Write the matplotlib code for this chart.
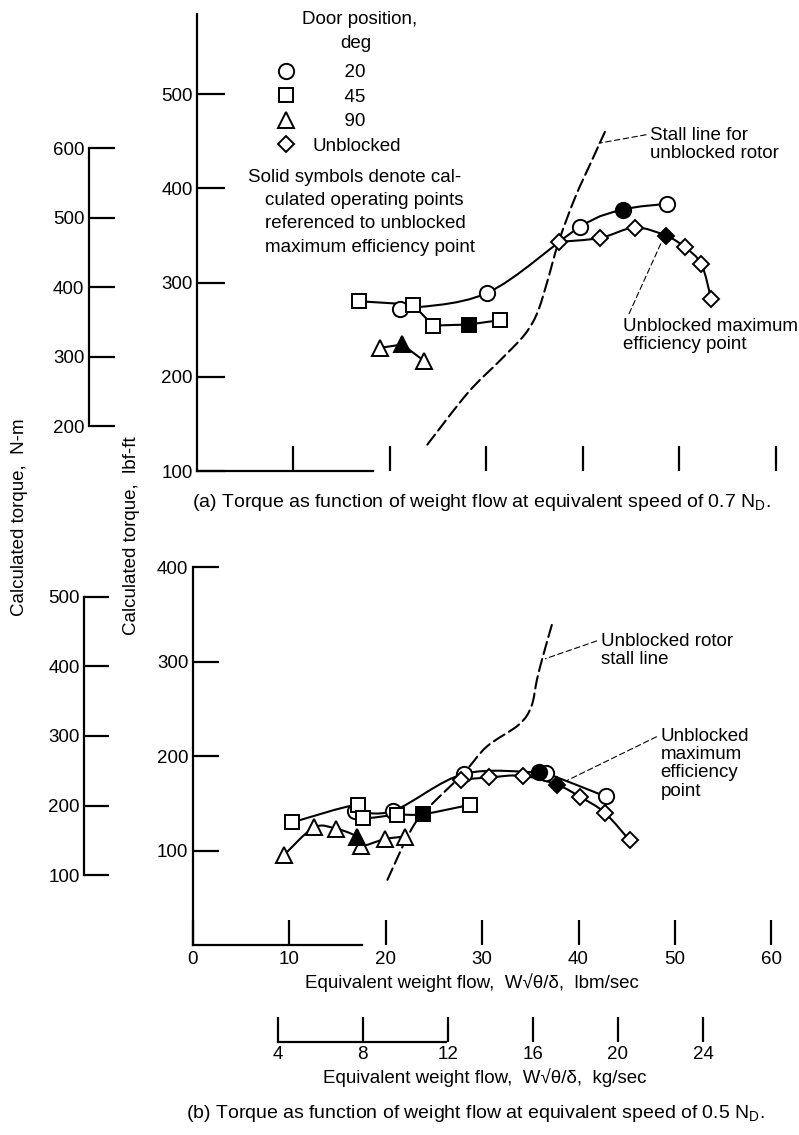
import numpy as np
import matplotlib
matplotlib.use("Agg")
import matplotlib.pyplot as plt
from matplotlib.path import Path
from matplotlib.patches import PathPatch
from matplotlib.lines import Line2D

plt.rcParams['font.family'] = ['Liberation Sans', 'DejaVu Sans']
plt.rcParams['mathtext.fontset'] = 'custom'
plt.rcParams['mathtext.rm'] = 'Liberation Sans'
plt.rcParams['font.size'] = 13.5

# ---- (a) 0.7 N_D : weight flow (lbm/sec) vs torque (lbf-ft)
a_circ_x = [21.1, 30.1, 39.7, 48.7]
a_circ_y = [272, 289, 359, 383.6]
a_circ_sx = [44.2]
a_circ_sy = [377.5]

a_sq_x = [16.8, 22.4, 24.5, 31.4]
a_sq_y = [280.2, 276.7, 254.4, 260.1]
a_sq_sx = [28.2]
a_sq_sy = [255.5]

a_tri_x = [19.0, 23.6]
a_tri_y = [230.7, 216.6]
a_tri_sx = [21.3]
a_tri_sy = [234.3]

a_dia_x = [37.5, 41.8, 45.4, 50.6, 52.3, 53.3]
a_dia_y = [343.2, 347.4, 358.4, 337.5, 319.5, 283.1]
a_dia_sx = [48.6]
a_dia_sy = [349.9]

a_stall_x = [23.9, 28.1, 31.5, 34.0, 35.3, 36.3, 37.5, 39.2, 41.1, 42.3]
a_stall_y = [128, 183, 218, 245, 268, 300, 343, 390, 433, 460]

# ---- (b) 0.5 N_D
b_circ_x = [16.8, 20.8, 28.1, 36.6, 42.8]
b_circ_y = [142, 142, 181, 182, 157.2]
b_circ_sx = [35.9]
b_circ_sy = [182.6]

b_sq_x = [10.3, 17.1, 17.7, 21.2, 28.8]
b_sq_y = [129.7, 148.4, 134.9, 137.8, 148.4]
b_sq_sx = [23.9]
b_sq_sy = [138.5]

b_tri_x = [9.5, 12.6, 14.9, 17.5, 19.9, 22.0]
b_tri_y = [95.4, 124.4, 123, 104.9, 112, 114.8]
b_tri_sx = [17.0]
b_tri_sy = [114.8]

b_dia_x = [27.8, 30.7, 34.2, 40.2, 42.7, 45.3]
b_dia_y = [175, 177.3, 179.1, 156.5, 140.2, 110.6]
b_dia_sx = [37.8]
b_dia_sy = [169.5]

b_stall_x = [20.2, 22.3, 23.9, 28.1, 30.5, 33.8, 35.1, 35.7, 36.3, 37.3]
b_stall_y = [69, 115, 139.5, 182, 210, 233, 252, 281, 305, 341]

door_labels = ['20', '45', '90', 'Unblocked']
note_lines = ['Solid symbols denote cal-', 'culated operating points',
              'referenced to unblocked', 'maximum efficiency point']
lbf_ticks_a = [100, 200, 300, 400, 500]
lbf_ticks_b = [100, 200, 300, 400]
nm_ticks_a = [200, 300, 400, 500, 600]
nm_ticks_b = [100, 200, 300, 400, 500]
flow_ticks = [10, 20, 30, 40, 50, 60]
kg_ticks = [4, 8, 12, 16, 20, 24]

NM = 1.35582
KG = 0.453592
FS = 13.5

W, H = 799, 1135
fig = plt.figure(figsize=(W / 100, H / 100), dpi=100)


def px(x, y):
    return x / W, 1 - y / H


def faired(ax, x, y, smooth=True, **kw):
    pts = np.column_stack([x, y]).astype(float)
    pts = pts[np.argsort(pts[:, 0], kind='stable')]
    if not smooth:
        ax.plot(pts[:, 0], pts[:, 1], color='k', lw=1.5, zorder=2, **kw)
        return
    verts = [pts[0]]
    codes = [Path.MOVETO]
    n = len(pts)
    for i in range(n - 1):
        p0 = pts[i - 1] if i > 0 else pts[i]
        p1, p2 = pts[i], pts[i + 1]
        p3 = pts[i + 2] if i + 2 < n else pts[i + 1]
        verts += [p1 + (p2 - p0) / 6, p2 - (p3 - p1) / 6, p2]
        codes += [Path.CURVE4] * 3
    ax.add_patch(PathPatch(Path(verts, codes), fill=False, ec='k', lw=1.5,
                           zorder=2, capstyle='round', **kw))


mk = dict(ls='none', mec='k', mew=1.4, zorder=3)
ms = {'o': 11, 's': 10.5, '^': 11.5, 'D': 8}


def series(ax, x, y, sx, sy, m, smooth=True):
    faired(ax, list(x) + list(sx), list(y) + list(sy), smooth=smooth)
    ax.plot(x, y, marker=m, ms=ms[m], mfc='white', **mk)
    ax.plot(sx, sy, marker=m, ms=ms[m], mfc='k', **mk)


def style_axes(ax, ytop, ylo, ticks_y, tick_len):
    for s in ['top', 'right']:
        ax.spines[s].set_visible(False)
    for s in ['left', 'bottom']:
        ax.spines[s].set_linewidth(1.6)
    ax.set_xlim(0, 62)
    ax.set_ylim(ylo, ytop)
    ax.spines['left'].set_bounds(ylo, ytop)
    ax.set_yticks(ticks_y)
    ax.set_xticks(flow_ticks)
    ax.tick_params(direction='in', length=tick_len, width=1.6, labelsize=FS, pad=3)
    ax.set_facecolor('none')


# ---------------- panel (a)
ax_a = fig.add_axes([196.7 / W, 1 - 471 / H, 598.3 / W, 485 * 0.942 / H])
style_axes(ax_a, 585, 100, lbf_ticks_a, 20)
ax_a.spines['bottom'].set_bounds(0, 18.3)
ax_a.tick_params(axis='x', labelbottom=False, length=18)

series(ax_a, a_circ_x, a_circ_y, a_circ_sx, a_circ_sy, 'o')
series(ax_a, a_sq_x, a_sq_y, a_sq_sx, a_sq_sy, 's', smooth=False)
series(ax_a, a_tri_x, a_tri_y, a_tri_sx, a_tri_sy, '^', smooth=False)
series(ax_a, a_dia_x, a_dia_y, a_dia_sx, a_dia_sy, 'D')
faired(ax_a, a_stall_x, a_stall_y, ls=(0, (6, 2.5)))

sec_a = ax_a.secondary_yaxis((88.5 - 196.7) / 598.3,
                             functions=(lambda v: v * NM, lambda v: v / NM))
sec_a.set_yticks(nm_ticks_a)
sec_a.spines['left'].set_bounds(200, 600)
sec_a.spines['left'].set_linewidth(1.6)
sec_a.tick_params(direction='in', length=19, width=1.6, labelsize=FS, pad=3)

lead = dict(arrowstyle='-', ls=(0, (5, 3)), lw=0.8, color='k', shrinkA=1, shrinkB=2)
ax_a.annotate('Stall line for\nunblocked rotor', xy=(41.4, 447.5), xytext=(47, 446.5),
              va='center', ha='left', fontsize=FS, linespacing=1.1,
              arrowprops=dict(relpos=(0, 0.8), **lead))
ax_a.annotate('Unblocked maximum\nefficiency point', xy=(48.3, 346), xytext=(44.2, 244),
              va='center', ha='left', fontsize=FS, linespacing=1.1,
              arrowprops=dict(relpos=(0, 0.75), **lead))

handles = [Line2D([], [], marker=m, ms=ms[m], mfc='white', mec='k', mew=1.4, ls='none')
           for m in ['o', 's', '^', 'D']]
labels = [' ' * 6 + t if len(t) < 3 else t for t in door_labels]
ax_a.legend(handles, labels, loc='upper left',
            bbox_to_anchor=px(277, 64), bbox_transform=fig.transFigure,
            frameon=False, borderpad=0, borderaxespad=0, handlelength=1.0,
            handletextpad=0.9, labelspacing=0.4, fontsize=FS)
fig.text(*px(360, 19), 'Door position,', fontsize=FS, ha='center', va='center')
fig.text(*px(356, 43), 'deg', fontsize=FS, ha='center', va='center')

for i, line in enumerate(note_lines):
    fig.text(*px(248 if i == 0 else 265, 177 + 23.5 * i), line, fontsize=FS, va='center')

fig.text(*px(481, 503), '(a) Torque as function of weight flow at equivalent speed of '
         '0.7 N$_\\mathrm{D}$.', fontsize=14, ha='center', va='center')

# ---------------- panel (b)
ax_b = fig.add_axes([192.5 / W, 1 - 945 / H, 598.3 / W, 378 / H])
style_axes(ax_b, 400, 0, lbf_ticks_b, 19)
ax_b.spines['bottom'].set_bounds(0, 17.6)
ax_b.set_xticks([0] + flow_ticks)
ax_b.tick_params(axis='x', length=18, pad=4)

series(ax_b, b_circ_x, b_circ_y, b_circ_sx, b_circ_sy, 'o')
series(ax_b, b_sq_x, b_sq_y, b_sq_sx, b_sq_sy, 's')
series(ax_b, b_tri_x, b_tri_y, b_tri_sx, b_tri_sy, '^')
series(ax_b, b_dia_x, b_dia_y, b_dia_sx, b_dia_sy, 'D')
faired(ax_b, b_stall_x, b_stall_y, ls=(0, (6, 2.5)))

sec_b = ax_b.secondary_yaxis((84 - 192.5) / 598.3,
                             functions=(lambda v: v * NM, lambda v: v / NM))
sec_b.set_yticks(nm_ticks_b)
sec_b.spines['left'].set_bounds(100, 500)
sec_b.spines['left'].set_linewidth(1.6)
sec_b.tick_params(direction='in', length=18, width=1.6, labelsize=FS, pad=3)

sec_kg = ax_b.secondary_xaxis(-97 / 378, functions=(lambda v: v * KG, lambda v: v / KG))
sec_kg.set_xticks(kg_ticks)
sec_kg.spines['bottom'].set_bounds(4, 11.9)
sec_kg.spines['bottom'].set_linewidth(1.6)
sec_kg.tick_params(direction='in', length=18, width=1.6, labelsize=FS, pad=3)

ax_b.annotate('Unblocked rotor\nstall line', xy=(36.3, 302), xytext=(42.3, 312),
              va='center', ha='left', fontsize=FS, linespacing=1.1,
              arrowprops=dict(relpos=(0, 0.8), **lead))
ax_b.annotate('Unblocked\nmaximum\nefficiency\npoint', xy=(38.6, 173), xytext=(48.5, 192),
              va='center', ha='left', fontsize=FS, linespacing=1.1,
              arrowprops=dict(relpos=(0, 0.9), **lead))

fig.text(*px(472, 983), 'Equivalent weight flow,  W\u221a\u03b8/\u03b4,  lbm/sec',
         fontsize=FS, ha='center', va='center')
fig.text(*px(485, 1078), 'Equivalent weight flow,  W\u221a\u03b8/\u03b4,  kg/sec',
         fontsize=FS, ha='center', va='center')
fig.text(*px(475, 1113), '(b) Torque as function of weight flow at equivalent speed of '
         '0.5 N$_\\mathrm{D}$.', fontsize=14, ha='center', va='center')

fig.text(*px(20, 517), 'Calculated torque,  N-m', rotation=90, fontsize=FS,
         ha='center', va='center')
fig.text(*px(132, 536), 'Calculated torque,  lbf-ft', rotation=90, fontsize=FS,
         ha='center', va='center')

fig.savefig('out.png', dpi=100)
